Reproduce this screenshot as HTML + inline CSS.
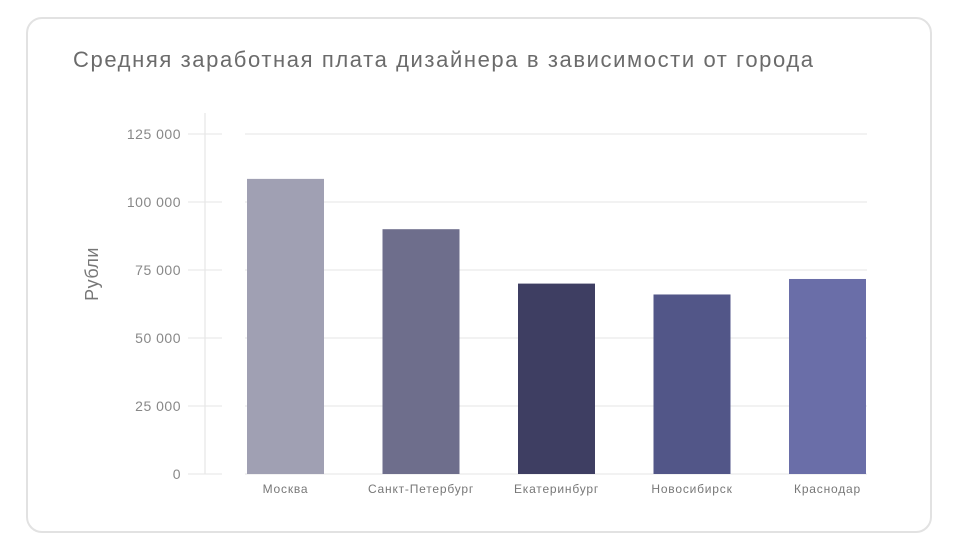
<!DOCTYPE html>
<html><head><meta charset="utf-8"><style>
body{margin:0;background:#fff;width:961px;height:550px;overflow:hidden;font-family:"Liberation Sans",sans-serif}
#card{position:absolute;left:26px;top:17px;width:906px;height:516px;border:2px solid #e2e2e2;border-radius:16px;box-sizing:border-box}
</style></head><body>
<div id="card"></div>
<svg id="chart" width="961" height="550" style="position:absolute;left:0;top:0">
<text x="73" y="67" font-size="22" letter-spacing="1.6" fill="#6b6b6b">Средняя заработная плата дизайнера в зависимости от города</text>
<text transform="translate(98,274) rotate(-90)" text-anchor="middle" font-size="18" letter-spacing="0.5" fill="#777">Рубли</text>
<line x1="205" y1="113" x2="205" y2="474" stroke="#e0e0e0"/>
</svg>
<script>
const categories=["Москва","Санкт-Петербург","Екатеринбург","Новосибирск","Краснодар"];
const values=[108500,90000,70000,66000,71700];
const colors=["#a0a0b3","#6e6e8c","#3e3e62","#525688","#6a6ea8"];
const ticks=[0,25000,50000,75000,100000,125000];
const tickLabels=["0","25 000","50 000","75 000","100 000","125 000"];
const svg=document.getElementById('chart');const NS="http://www.w3.org/2000/svg";
const y=v=>474-v/125000*340;
const xc=i=>285.5+i*135.5;
function mk(t,a){const e=document.createElementNS(NS,t);for(const k in a)e.setAttribute(k,a[k]);svg.appendChild(e);return e;}
ticks.forEach((t,i)=>{
 let l=mk('line',{x1:188,x2:222,y1:y(t),y2:y(t),stroke:'#e6e6e6'});
 
 
 let g=mk('line',{x1:245,x2:867,y1:y(t),y2:y(t),stroke:'#e6e6e6'});
 
 
 let tx=mk('text',{x:181,y:y(t)+5,'text-anchor':'end','font-size':14,'letter-spacing':0.5,fill:'#888'});
 tx.textContent=tickLabels[i];
 
 
});
categories.forEach((c,i)=>{
 let r=mk('rect',{x:xc(i)-38.5,y:y(values[i]),width:77,height:474-y(values[i]),fill:colors[i]});
 
 
 let tx=mk('text',{x:xc(i),y:493,'text-anchor':'middle','font-size':12,'letter-spacing':0.8,fill:'#777'});
 tx.textContent=c;
 
 
});
</script>
</body></html>
